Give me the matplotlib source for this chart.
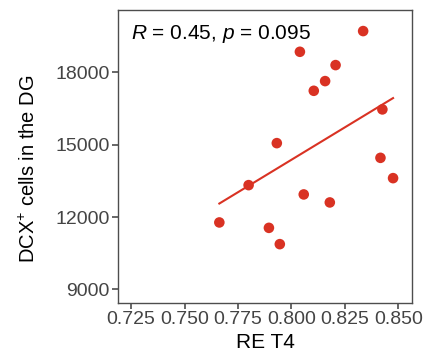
import numpy as np
import matplotlib.pyplot as plt

plt.rcParams['font.family'] = ['Liberation Sans', 'DejaVu Sans']
plt.rcParams['mathtext.fontset'] = 'custom'
plt.rcParams['mathtext.rm'] = 'Liberation Sans'
plt.rcParams['mathtext.it'] = 'Liberation Sans:italic'

# RE T4 vs DCX+ cell counts
re_t4 = [0.7663, 0.7800, 0.7895, 0.7946, 0.7932, 0.8040, 0.8058, 0.8105,
         0.8158, 0.8180, 0.8207, 0.8336, 0.8426, 0.8417, 0.8476]
dcx_cells = [11776, 13324, 11552, 10876, 15066, 18855, 12938, 17237,
             17639, 12606, 18303, 19714, 16465, 14456, 13614]
x_ticks = [0.725, 0.750, 0.775, 0.800, 0.825, 0.850]
y_ticks = [9000, 12000, 15000, 18000]
stats_text = r'$R$ = 0.45, $p$ = 0.095'

red = '#D93223'
grey = '#4D4D4D'

fig = plt.figure(figsize=(4.34, 3.6), dpi=100)
ax = fig.add_axes([0.272, 0.158, 0.677, 0.814])

x = np.array(re_t4)
y = np.array(dcx_cells)
ax.scatter(x, y, s=58, color=red, edgecolors='none', zorder=3)

# linear fit
slope, intercept = np.polyfit(x, y, 1)
xs = np.array([x.min(), x.max()])
ax.plot(xs, slope * xs + intercept, color=red, lw=1.5, zorder=2)

ax.text(0.045, 0.955, stats_text, transform=ax.transAxes, ha='left', va='top',
        fontsize=15, color='black')

ax.set_xlim(0.7189, 0.8564)
ax.set_ylim(8430, 20585)
ax.set_xticks(x_ticks)
ax.set_xticklabels(['%.3f' % v for v in x_ticks])
ax.set_yticks(y_ticks)
ax.tick_params(colors=grey, labelsize=14, length=4, width=1.2, pad=2)
ax.tick_params(axis='both', labelcolor='#444444')
for s in ax.spines.values():
    s.set_color(grey)
    s.set_linewidth(1.0)

ax.set_xlabel('RE T4', fontsize=15, labelpad=3)
ax.set_ylabel(r'DCX$^{+}$ cells in the DG', fontsize=14.5)
ax.yaxis.set_label_coords(-0.268, 0.46)

fig.savefig('out.png', dpi=100)
